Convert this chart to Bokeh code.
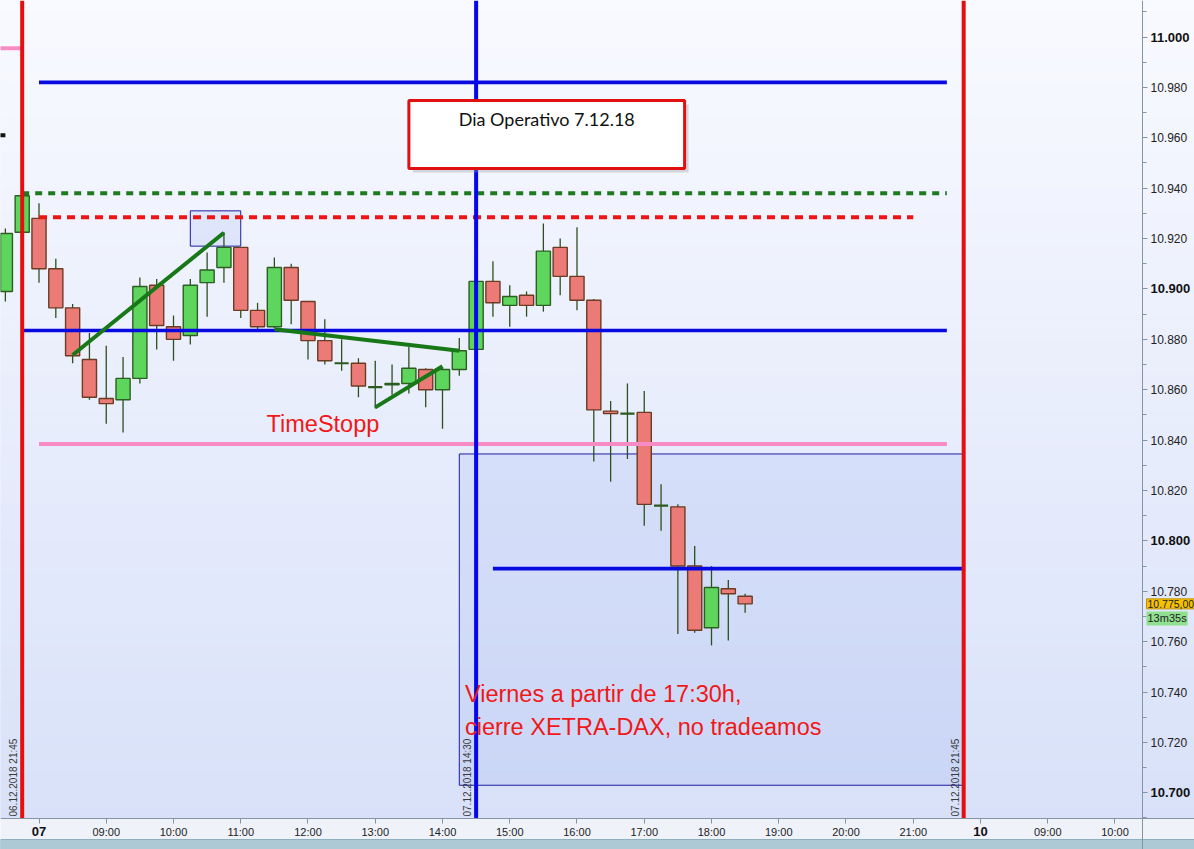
import numpy as np
from math import pi

from bokeh.plotting import figure
from bokeh.models import ColumnDataSource, Range1d, LinearAxis, FixedTicker, Label
from bokeh.embed import file_html
from bokeh.resources import INLINE

# ---------------------------------------------------------------- data
# DAX future, 15-minute bars (last bars of 06.12 and session of 07.12.2018)
bar_times = [
    "06.12 21:30", "06.12 21:45",
    "07.12 08:00", "07.12 08:15", "07.12 08:30", "07.12 08:45",
    "07.12 09:00", "07.12 09:15", "07.12 09:30", "07.12 09:45",
    "07.12 10:00", "07.12 10:15", "07.12 10:30", "07.12 10:45",
    "07.12 11:00", "07.12 11:15", "07.12 11:30", "07.12 11:45",
    "07.12 12:00", "07.12 12:15", "07.12 12:30", "07.12 12:45",
    "07.12 13:00", "07.12 13:15", "07.12 13:30", "07.12 13:45",
    "07.12 14:00", "07.12 14:15", "07.12 14:30", "07.12 14:45",
    "07.12 15:00", "07.12 15:15", "07.12 15:30", "07.12 15:45",
    "07.12 16:00", "07.12 16:15", "07.12 16:30", "07.12 16:45",
    "07.12 17:00", "07.12 17:15", "07.12 17:30", "07.12 17:45",
    "07.12 18:00", "07.12 18:15", "07.12 18:30",
]
opens = [10899, 10922.5, 10928, 10908, 10892.5, 10872, 10856.5, 10856, 10864.5, 10901.5,
         10885, 10881.5, 10902.5, 10908.5, 10916.5, 10891.5, 10885, 10908.5, 10895, 10879.5,
         10870.5, 10870.5, 10861, 10862, 10862.5, 10868, 10860, 10868, 10876, 10903,
         10893.5, 10897.5, 10893.5, 10916.5, 10905, 10895.5, 10851.5, 10850.5, 10851, 10814,
         10813.5, 10790, 10765.5, 10781, 10778]
highs = [10924, 10937.5, 10934, 10912, 10894, 10882.5, 10877.5, 10873, 10904.5, 10904,
         10889.5, 10904, 10914.5, 10922.5, 10916.5, 10894.5, 10912.5, 10910, 10895, 10888,
         10880, 10872.5, 10871.5, 10870, 10877, 10868.5, 10869, 10880.5, 10903, 10911,
         10901.5, 10899, 10926, 10920, 10924.5, 10896, 10855.5, 10862.5, 10859.5, 10822.5,
         10814.5, 10798, 10790, 10784.5, 10779]
lows = [10895, 10922, 10902.5, 10888.5, 10870.5, 10856, 10846.5, 10843, 10862.5, 10876,
        10871.5, 10878, 10889, 10902.5, 10888.5, 10884, 10884.5, 10886, 10872, 10870,
        10867.5, 10857, 10852.5, 10858, 10858.5, 10853, 10844.5, 10865.5, 10876, 10889,
        10885, 10889, 10891, 10897.5, 10891.5, 10831.5, 10823.5, 10832.5, 10806, 10804,
        10763, 10763.5, 10758.5, 10760.5, 10771.5]
closes = [10922, 10937, 10908, 10892.5, 10873.5, 10857, 10854.5, 10864.5, 10901, 10885.5,
          10880, 10901.5, 10907.5, 10916.5, 10891.5, 10885, 10908.5, 10895.5, 10879.5, 10871.5,
          10870.5, 10861.5, 10861, 10862.5, 10868.5, 10860, 10868, 10875.5, 10903, 10894.5,
          10897, 10893.5, 10915, 10905, 10895.5, 10852, 10850.5, 10850.5, 10814.5, 10814,
          10790, 10764.5, 10781.5, 10779, 10775]

last_price_text = "10.775,00"
bar_countdown = "13m35s"

# horizontal levels drawn on the chart
level_values = [10982, 10938, 10928.5, 10883.5, 10838.5, 10789, 10995.5, 10961]
level_from = ["07.12 08:00", "06.12 21:45", "07.12 08:00", "06.12 21:45",
              "07.12 08:00", "07.12 14:45", "06.12 21:00", "06.12 21:00"]
level_to = ["07.12 21:30", "07.12 21:30", "07.12 21:00", "07.12 21:30",
            "07.12 21:30", "07.12 21:45", "06.12 21:45", "06.12 21:30"]
level_colors = ["#0808e0", "#1f7a1f", "#ee1414", "#0808e0",
                "#f78cc4", "#0808e0", "#f78cc4", "#111111"]
level_dashes = ["solid", "7 6", "8 6", "solid", "solid", "solid", "solid", "solid"]

# session markers (vertical lines)
marker_times = ["06.12 21:45", "07.12 14:30", "07.12 21:45"]
marker_texts = ["06.12.2018 21:45", "07.12.2018 14:30", "07.12.2018 21:45"]
marker_colors = ["#e41010", "#0505ee", "#e41010"]

# trend lines
trend_from = ["07.12 08:30", "07.12 11:30", "07.12 13:00"]
trend_from_val = [10873.8, 10884, 10853]
trend_to = ["07.12 10:45", "07.12 14:15", "07.12 14:00"]
trend_to_val = [10922.3, 10875.5, 10869.3]

# shaded zones
zone_left = ["07.12 14:15", "07.12 10:15"]
zone_right = ["07.12 21:45", "07.12 11:00"]
zone_bottom = [10703, 10917]
zone_top = [10834.5, 10931]

# time axis
tick_times = ["07.12 08:00", "07.12 09:00", "07.12 10:00", "07.12 11:00", "07.12 12:00",
              "07.12 13:00", "07.12 14:00", "07.12 15:00", "07.12 16:00", "07.12 17:00",
              "07.12 18:00", "07.12 19:00", "07.12 20:00", "07.12 21:00",
              "10.12 08:00", "10.12 09:00", "10.12 10:00"]
tick_labels = ["07", "09:00", "10:00", "11:00", "12:00", "13:00", "14:00", "15:00",
               "16:00", "17:00", "18:00", "19:00", "20:00", "21:00", "10", "09:00", "10:00"]
day_labels = ["07", "10"]

# price axis
price_ticks = list(range(10700, 11001, 20))
price_minor = list(range(10690, 11011, 10))
price_bold = [10700, 10800, 10900, 11000]


# ---------------------------------------------------------------- helpers
def session_hours(stamp):
    """Trading-time axis: hours since 07.12 08:00 with the overnight gaps removed."""
    day, hm = stamp.split()
    h, m = (int(s) for s in hm.split(":"))
    clock = h + m / 60.0
    if day == "06.12":
        return clock - 22.0
    if day == "07.12":
        return clock - 8.0
    return clock - 8.0 + 14.0


def price_label(v):
    return f"{v / 1000:.3f}"


# chart area: 1142 x 818 px, price scale to the right, time scale below
W, H = 1194, 849
chart_w, chart_h = 1142, 818
x_start, x_axis_pos = -0.5725, 16.409
y_axis_pos, y_top = 10689.8, 11014.5
ppx = chart_w / (x_axis_pos - x_start)
ppy = chart_h / (y_top - y_axis_pos)
x_end = x_axis_pos + (W - chart_w) / ppx
y_bottom = y_axis_pos - (H - chart_h) / ppy
y_band = y_axis_pos - 21 / ppy

p = figure(width=W, height=H,
           x_range=Range1d(x_start, x_end), y_range=Range1d(y_bottom, y_top),
           x_axis_type=None, y_axis_type=None,
           toolbar_location=None, output_backend="svg",
           min_border_left=0, min_border_top=0, min_border_right=0, min_border_bottom=0,
           background_fill_color="#f1f4fd", border_fill_color="#eff2fb",
           outline_line_color=None)

# soft vertical background gradient behind chart and price scale
n_strips = 70
edges = np.linspace(y_axis_pos, y_top, n_strips + 1)
top_rgb = np.array([249, 250, 255])
bot_rgb = np.array([216, 225, 249])
mid = (edges[:-1] + edges[1:]) / 2
f = (mid - y_axis_pos) / (y_top - y_axis_pos)
strip_cols = []
for fi in f:
    c = bot_rgb + (top_rgb - bot_rgb) * fi
    strip_cols.append("#%02x%02x%02x" % tuple(int(round(v)) for v in c))
p.quad(left=x_start, right=x_end, bottom=edges[:-1], top=edges[1:],
       fill_color=strip_cols, line_color=strip_cols, line_width=1)
# time-scale strip and the scroll bar underneath
p.quad(left=x_start, right=x_end, bottom=y_band, top=y_axis_pos,
       fill_color="#eff2f9", line_color=None)
p.quad(left=x_start, right=x_end, bottom=y_bottom, top=y_band,
       fill_color="#adc9d6", line_color="#8fb0c0", line_width=1)

# zones
zx0 = [session_hours(s) for s in zone_left]
zx1 = [session_hours(s) for s in zone_right]
p.quad(left=zx0, right=zx1, bottom=zone_bottom, top=zone_top,
       fill_color="#6d8ee8", fill_alpha=0.13, line_color="#1c1ca0", line_width=1)

# candles
xs = [session_hours(s) for s in bar_times]
tops = [max(o, c) for o, c in zip(opens, closes)]
bottoms = [min(o, c) for o, c in zip(opens, closes)]
fills, outlines, widths = [], [], []
for o, c in zip(opens, closes):
    if c > o:
        fills.append("#5ed65e"); outlines.append("#2c5e22"); widths.append(1.4)
    elif c < o:
        fills.append("#ec7b78"); outlines.append("#6a3d22"); widths.append(1.4)
    else:
        fills.append("#2c5a1c"); outlines.append("#2c5a1c"); widths.append(2.2)
src = ColumnDataSource(dict(x=xs, top=tops, bottom=bottoms, high=highs, low=lows,
                            fill=fills, line=outlines, lw=widths))
p.segment(x0="x", y0="low", x1="x", y1="high", source=src,
          line_color="#2d4f1e", line_width=1.3)
p.vbar(x="x", width=0.21, top="top", bottom="bottom", source=src,
       fill_color="fill", line_color="line", line_width="lw")

# horizontal levels
for v, a, b, col, dash in zip(level_values, level_from, level_to, level_colors, level_dashes):
    p.line(x=[session_hours(a), session_hours(b)], y=[v, v],
           line_color=col, line_width=4 if col != "#0808e0" else 3.6, line_dash=dash)

# trend lines
for a, av, b, bv in zip(trend_from, trend_from_val, trend_to, trend_to_val):
    p.line(x=[session_hours(a), session_hours(b)], y=[av, bv],
           line_color="#187818", line_width=4)

# vertical session markers
for t, txt, col in zip(marker_times, marker_texts, marker_colors):
    xm = session_hours(t)
    p.line(x=[xm, xm], y=[y_axis_pos, y_top], line_color=col, line_width=4)
    p.add_layout(Label(x=xm, y=y_axis_pos, text=txt, angle=pi / 2,
                       x_offset=-3, y_offset=2,
                       text_align="left", text_baseline="bottom",
                       text_font="Liberation Sans", text_font_size="10px",
                       text_color="#3a3a3a"))

# title box
box_l, box_r = session_hours("07.12 13:30"), session_hours("07.12 17:36")
box_b, box_t = 10947.8, 10974.8
p.quad(left=box_l + 4 / ppx, right=box_r + 4 / ppx, bottom=box_b - 4 / ppy, top=box_t - 4 / ppy,
       fill_color="#9a9a9a", fill_alpha=0.35, line_color=None)
p.quad(left=box_l, right=box_r, bottom=box_b, top=box_t,
       fill_color="white", line_color="#e01010", line_width=3)
p.add_layout(Label(x=(box_l + box_r) / 2, y=10967.6, text="Dia Operativo 7.12.18",
                   text_align="center", text_baseline="middle",
                   text_font="Lato", text_font_size="18px", text_color="#111111"))

# notes
p.add_layout(Label(x=session_hours("07.12 11:23"), y=10846.2, text="TimeStopp",
                   text_align="left", text_baseline="middle",
                   text_font="Liberation Sans", text_font_size="23.5px", text_color="#f01818"))
for yy, txt in zip([10739.4, 10726.3],
                   ["Viernes a partir de 17:30h,", "cierre XETRA-DAX, no tradeamos"]):
    p.add_layout(Label(x=session_hours("07.12 14:20"), y=yy, text=txt,
                       text_align="left", text_baseline="middle",
                       text_font="Liberation Sans", text_font_size="23.5px",
                       text_color="#f01818"))

# axes, pinned to the edges of the chart area
axis_grey = "#8695a4"
tick_pos = [session_hours(s) for s in tick_times]
x_over = {}
for pos, lab in zip(tick_pos, tick_labels):
    x_over[pos] = "" if lab in day_labels else lab
xaxis = LinearAxis(ticker=FixedTicker(ticks=tick_pos, minor_ticks=[]),
                   fixed_location=y_axis_pos,
                   major_label_overrides=x_over,
                   axis_line_color=axis_grey, major_tick_line_color=axis_grey,
                   major_tick_out=5, major_tick_in=0, minor_tick_out=0,
                   major_label_standoff=2,
                   major_label_text_font="Liberation Sans",
                   major_label_text_font_size="11px",
                   major_label_text_color="#222222")
p.add_layout(xaxis, "below")
for pos, lab in zip(tick_pos, tick_labels):
    if lab in day_labels:
        p.add_layout(Label(x=pos, y=y_axis_pos - 13 / ppy, text=lab,
                           text_align="center", text_baseline="middle",
                           text_font="Liberation Sans", text_font_size="13px",
                           text_font_style="bold", text_color="#111111"))

y_over = {v: ("" if v in price_bold else price_label(v)) for v in price_ticks}
yaxis = LinearAxis(ticker=FixedTicker(ticks=price_ticks, minor_ticks=price_minor),
                   fixed_location=x_axis_pos,
                   major_label_overrides=y_over,
                   axis_line_color=axis_grey, major_tick_line_color=axis_grey,
                   minor_tick_line_color=axis_grey,
                   major_tick_out=5, major_tick_in=0, minor_tick_out=4, minor_tick_in=0,
                   major_label_standoff=3,
                   major_label_text_font="Liberation Sans",
                   major_label_text_font_size="12px",
                   major_label_text_color="#222222")
p.add_layout(yaxis, "right")
for v in price_bold:
    p.add_layout(Label(x=x_axis_pos + 8 / ppx, y=v, text=price_label(v),
                       text_align="left", text_baseline="middle",
                       text_font="Liberation Sans", text_font_size="13px",
                       text_font_style="bold", text_color="#111111"))

# last price tag and bar countdown
p.add_layout(Label(x=x_axis_pos + 4 / ppx, y=closes[-1], text=last_price_text,
                   text_align="left", text_baseline="middle",
                   text_font="Liberation Sans", text_font_size="10.5px", text_color="#222222",
                   background_fill_color="#f6c200", border_line_color="#c09000",
                   padding=1))
p.add_layout(Label(x=x_axis_pos + 4 / ppx, y=closes[-1] - 5.8, text=bar_countdown,
                   text_align="left", text_baseline="middle",
                   text_font="Liberation Sans", text_font_size="11px", text_color="#222222",
                   background_fill_color="#8fe08f", padding=1))

open("out.html", "w").write(file_html(p, INLINE))
